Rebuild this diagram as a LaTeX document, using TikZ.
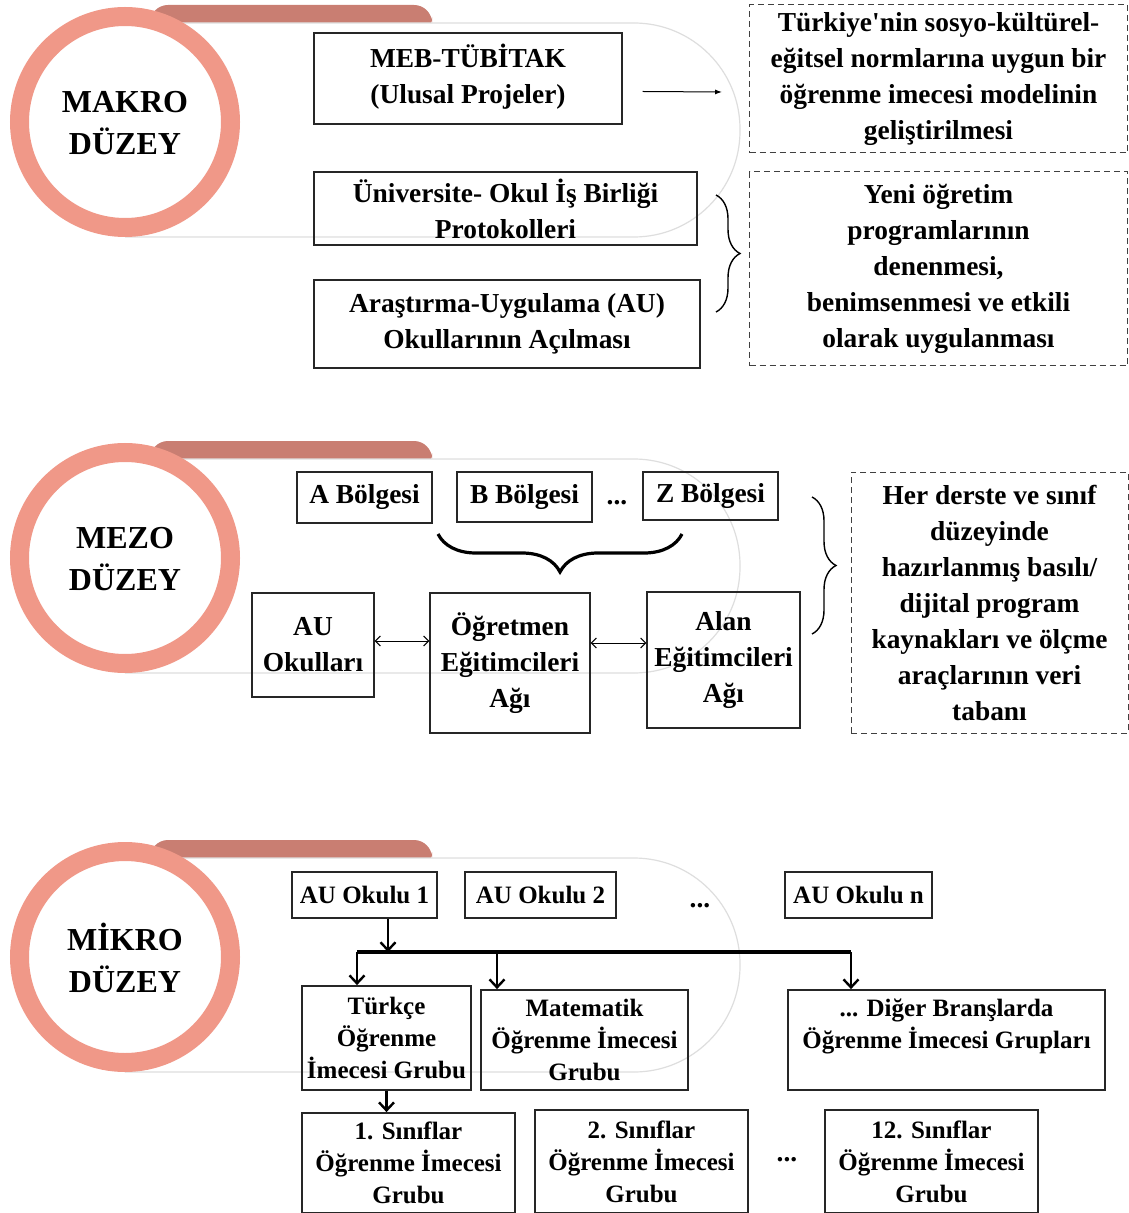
\documentclass[tikz,border=0pt]{standalone}
\usepackage{fontspec}
\setmainfont{Liberation Serif}[Ligatures=TeXOff]
\usetikzlibrary{decorations.pathreplacing,arrows.meta}
\definecolor{ringc}{RGB}{240,152,136}
\definecolor{tabc}{RGB}{201,126,114}
\tikzset{>=latex}
\tikzset{
  txt/.style={font=\bfseries\fontsize{13.7}{18}\selectfont},
  box/.style={txt,draw=black!85,line width=0.7pt,align=center,inner sep=0pt},
  mbox/.style={box,font=\bfseries\fontsize{12.5}{16}\selectfont,line width=0.9pt},
  goal/.style={box,draw=black!75,densely dashed,line width=0.5pt},
  level/.style={align=center,font=\bfseries\fontsize{16}{21}\selectfont},
  panel/.style={draw=black!13,fill=white,line width=0.6pt,rounded corners=53pt},
  thin/.style={-{Latex[length=3.5pt,width=2.5pt]},line width=0.5pt},
  dbl/.style={{Straight Barb[length=2.5pt,width=5pt]}-{Straight Barb[length=2.5pt,width=5pt]},line width=0.5pt},
  arr/.style={-{Straight Barb[length=4pt,width=7.5pt,line width=1.2pt]},line width=1.1pt},
  brc/.style={decorate,decoration={brace,amplitude=#1},line width=0.7pt},
}

\begin{document}
\begin{tikzpicture}[x=0.5pt,y=-0.5pt]
  \useasboundingbox (0,0) rectangle (1128,1213); % page size

  % level badges: tab, panel, ring
  \foreach \t/\lab/\nm in {5/MAKRO/makro,441/MEZO/mezo,840/MİKRO/mikro}{
    \fill[tabc,rounded corners=9pt] (150,\t+30) -- (150,\t) -- (432,\t) -- (432,\t+30) -- cycle;
    \draw[panel] (125,\t+18) -- (740,\t+18) -- (740,\t+232) -- (125,\t+232);
    \draw[ringc,line width=9.5pt,fill=white] (125,\t+117) circle[radius=52.75pt];
    \node[level] (lv-\nm) at (125,\t+118) {\lab\\DÜZEY};
  }

  % makro
  \node[box,minimum width=154pt,minimum height=45.5pt] (meb) at (468,78.5)
    {MEB-TÜBİTAK\\(Ulusal Projeler)\\[-13pt]\mbox{}};
  \node[goal,minimum width=189pt,minimum height=74pt] (goal1) at (938.5,79)
    {Türkiye'nin sosyo-kültürel-\\eğitsel normlarına uygun bir\\öğrenme imecesi modelinin\\geliştirilmesi};
  \draw[thin] ([shift={(10pt,-6.5pt)}]meb.east) -- ([shift={(-13.5pt,-6.5pt)}]goal1.west);
  \node[box,minimum width=191.5pt,minimum height=36.5pt] (uni) at (505.5,208.5)
    {Üniversite- Okul İş Birliği\\Protokolleri};
  \node[box,minimum width=193pt,minimum height=44pt] (aras) at (507,324)
    {Araştırma-Uygulama (AU)\\Okullarının Açılması};
  \node[goal,minimum width=189pt,minimum height=97pt] (goal2) at (938.5,269)
    {Yeni öğretim\\programlarının\\denenmesi,\\benimsenmesi ve etkili\\olarak uygulanması};
  \coordinate (b1t) at (716,195);
  \coordinate (b1b) at (716,312);
  \draw[brc=12pt] (b1t) -- (b1b);

  % mezo
  \node[box,minimum width=67.5pt,minimum height=25.5pt] (bA) at (364.5,497.5) {A Bölgesi};
  \node[box,minimum width=67.5pt,minimum height=25pt] (bB) at (524.5,497) {B Bölgesi};
  \node[txt] (dots1) at (617,503) {...};
  \node[box,minimum width=67.5pt,minimum height=24pt] (bZ) at (710.5,496) {Z Bölgesi};
  \coordinate (b2r) at (682,534);
  \coordinate (b2l) at (438,534);
  \draw[brc=19pt,line width=1.6pt] (b2r) -- (b2l);
  \node[box,minimum width=61pt,minimum height=52pt] (auo) at (313,645) {AU\\Okulları};
  \node[box,minimum width=80pt,minimum height=70pt] (ogr) at (510,663)
    {Öğretmen\\Eğitimcileri\\Ağı};
  \node[box,minimum width=76.5pt,minimum height=68pt] (alan) at (723.5,660)
    {Alan\\Eğitimcileri\\Ağı};
  \draw[dbl] ([yshift=2pt]auo.east) -- ([yshift=2pt]auo.east -| ogr.west);
  \draw[dbl] ([yshift=10pt]ogr.east) -- ([yshift=10pt]ogr.east -| alan.west);
  \coordinate (b3t) at (812,497);
  \coordinate (b3b) at (812,634);
  \draw[brc=12pt] (b3t) -- (b3b);
  \node[goal,minimum width=138.5pt,minimum height=130.5pt] (info) at (989.5,602.5)
    {Her derste ve sınıf\\düzeyinde\\hazırlanmış basılı/\\dijital program\\kaynakları ve ölçme\\araçlarının veri\\tabanı};

  % mikro
  \node[mbox,minimum width=72.5pt,minimum height=23pt] (s1) at (364.5,895) {AU Okulu 1};
  \node[mbox,minimum width=75.5pt,minimum height=23pt] (s2) at (540.5,895) {AU Okulu 2};
  \node[txt] (dots2) at (700,906) {...};
  \node[mbox,minimum width=73.5pt,minimum height=23pt] (sn) at (858.5,895) {AU Okulu n};
  \node[mbox,minimum width=84.5pt,minimum height=52pt] (tr) at (386.5,1038)
    {Türkçe\\Öğrenme\\İmecesi Grubu};
  \node[mbox,minimum width=103.5pt,minimum height=50pt] (mat) at (584.5,1040)
    {Matematik\\Öğrenme İmecesi\\Grubu};
  \node[mbox,minimum width=158.5pt,minimum height=50pt] (dig) at (946.5,1040)
    {... Diğer Branşlarda\\Öğrenme İmecesi Grupları\\\mbox{}};
  \coordinate (barl) at (357,952);
  \coordinate (barm) at (497,952);
  \coordinate (barr) at (851,952);
  \draw[line width=1.8pt] (barl) -- (barr); % bus line
  \draw[arr] ([xshift=11.75pt]s1.south) -- ([xshift=11.75pt]s1.south |- barl);
  \draw[arr] (barl) -- (barl |- tr.north);
  \draw[arr] (barm) -- (barm |- mat.north);
  \draw[arr] (barr) -- (barr |- dig.north);
  \node[mbox,minimum width=106.5pt,minimum height=50pt] (c1) at (408.5,1163)
    {1. Sınıflar\\Öğrenme İmecesi\\Grubu};
  \node[mbox,minimum width=106.5pt,minimum height=51.5pt] (c2) at (641.5,1161.5)
    {2. Sınıflar\\Öğrenme İmecesi\\Grubu};
  \node[txt] (dots3) at (787,1160) {...};
  \node[mbox,minimum width=106.5pt,minimum height=51.5pt] (c12) at (931.5,1161.5)
    {12. Sınıflar\\Öğrenme İmecesi\\Grubu};
  \draw[arr] (tr.south) -- (tr.south |- c1.north);
\end{tikzpicture}
\end{document}
